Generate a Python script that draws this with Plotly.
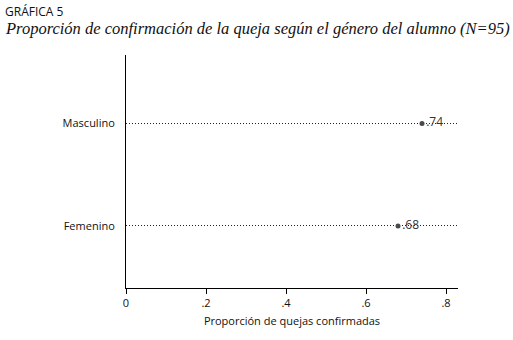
import plotly.graph_objects as go

categories = ["Femenino", "Masculino"]
proportions = [0.68, 0.74]
value_labels = [".68", ".74"]
x_tick_vals = [0, 0.2, 0.4, 0.6, 0.8]
x_tick_text = ["0", ".2", ".4", ".6", ".8"]

font_sans = "Open Sans, DejaVu Sans, sans-serif"
W, H = 513, 340
L, R, T, B = 126, 55, 55, 52
pw, ph = W - L - R, H - T - B

fig = go.Figure()
fig.add_trace(go.Scatter(
    x=proportions,
    y=list(range(len(categories))),
    mode="markers+text",
    marker=dict(color="#4a4a4a", size=5),
    text=value_labels,
    textposition="middle right",
    textfont=dict(family=font_sans, size=12, color="#333333"),
    cliponaxis=False,
    showlegend=False,
))

fig.update_layout(
    width=W, height=H,
    margin=dict(l=L, r=R, t=T, b=B, autoexpand=False),
    paper_bgcolor="white", plot_bgcolor="white",
    font=dict(family=font_sans, size=11, color="#111111"),
    xaxis=dict(
        range=[0, 0.83], tickvals=x_tick_vals, ticktext=x_tick_text,
        showline=True, linecolor="black", linewidth=1,
        ticks="outside", ticklen=5, tickcolor="black",
        showgrid=False, zeroline=False,
        title=dict(text="Proporción de quejas confirmadas", standoff=8,
                   font=dict(size=11)),
        tickfont=dict(size=11),
    ),
    yaxis=dict(
        range=[-0.605, 1.668], tickvals=[0, 1], ticktext=categories,
        showline=True, linecolor="black", linewidth=1,
        ticks="", showgrid=True, gridcolor="#222222", gridwidth=1,
        griddash="1px,2px", zeroline=False, ticklabelstandoff=8,
        tickfont=dict(size=11),
    ),
    annotations=[
        dict(text="GRÁFICA 5", x=(3 - L) / pw, y=1 + (T - 1) / ph,
             xref="paper", yref="paper",
             xanchor="left", yanchor="top", showarrow=False,
             font=dict(family=font_sans, size=12, color="#111111")),
        dict(text="<i>Proporción de confirmación de la queja según el género del alumno (N=95)</i>",
             x=(3 - L) / pw, y=1 + (T - 17) / ph,
             xref="paper", yref="paper",
             xanchor="left", yanchor="top", showarrow=False,
             font=dict(family="Liberation Serif, serif", size=16.5, color="#111111")),
    ],
)

fig.write_html("out.html", config={"displayModeBar": False},
               post_script="document.body.style.margin='0';")
